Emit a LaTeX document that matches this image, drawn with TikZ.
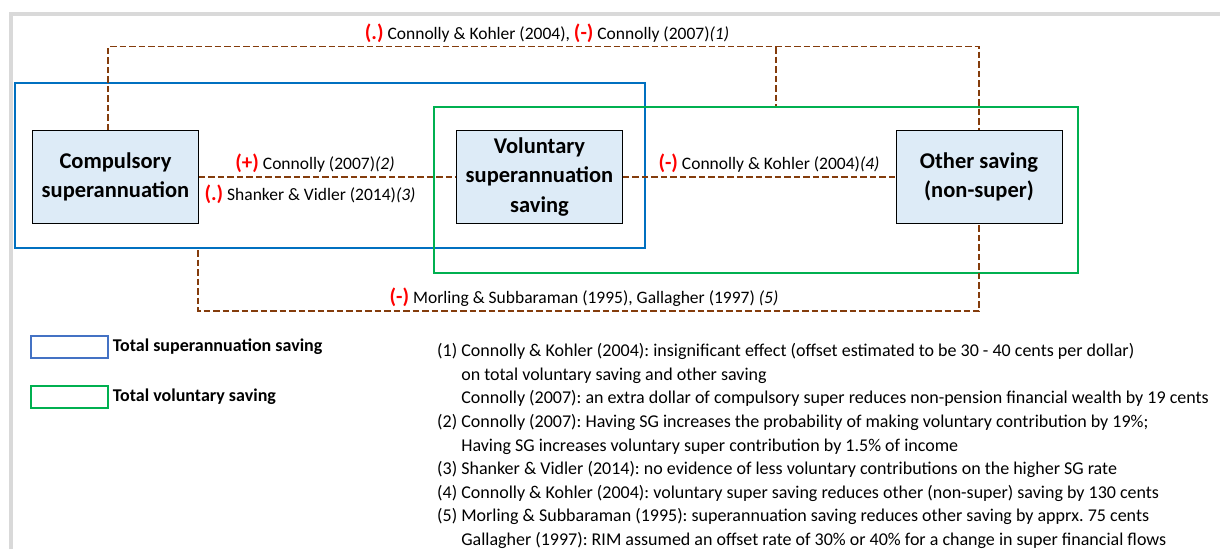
\documentclass[tikz,border=0pt]{standalone}
\usepackage{fontspec}
\setmainfont{Carlito}
\usetikzlibrary{positioning}
\frenchspacing

\definecolor{linkbrown}{HTML}{843C0C}
\definecolor{supblue}{HTML}{0070C0}
\definecolor{legblue}{HTML}{4472C4}
\definecolor{volgreen}{HTML}{00B050}
\definecolor{boxfill}{HTML}{DDEBF7}
\definecolor{effred}{HTML}{FF0000}
\definecolor{framegray}{HTML}{D9D9D9}

\newcommand{\eff}[1]{{\color{effred}\bfseries\fontsize{21}{21}\selectfont(#1)}}

\begin{document}
\begin{tikzpicture}[x=1pt, y=-1pt, font=\fontsize{17.5}{21}\selectfont,
		saving/.style={draw=black, line width=0.9pt, fill=boxfill, minimum width=166, minimum height=93,
			align=center, inner sep=2pt, font=\bfseries\fontsize{22.5}{29.5}\selectfont},
		frame/.style={draw, line width=2.6pt, inner sep=0pt},
		legbox/.style={draw, line width=2.6pt, minimum width=77, minimum height=22, inner sep=0pt},
		link/.style={draw=linkbrown, line width=1.6pt, dash pattern=on 6.5pt off 3pt}]
		\useasboundingbox (0,0) rectangle (1220,549);
		\draw[framegray, line width=4pt] (11,549) -- (11,14) -- (1220,14);
		
		% grouping frames
		\node[frame, draw=supblue, minimum width=630, minimum height=165] (totsup) at (330,165.5) {};
		\node[frame, draw=volgreen, minimum width=644, minimum height=166] (totvol) at (756,190) {};
		
		% saving types
		\node[saving] (comp) at (115.5,177) {Compulsory\\superannuation};
		\node[saving] (vol) at (539.5,177) {Voluntary\\superannuation\\saving};
		\node[saving] (other) at (979,177) {Other saving\\(non-super)};
		
		% links
		\coordinate (topmid) at (776,47);
		\coordinate (botleft) at (198,250);
		\draw[link] ([xshift=-7.5pt]comp.north) -- ++(0,-83.5) -| (other.north);
		\draw[link] (topmid) -- (topmid |- totvol.north);
		\draw[link] (comp) -- (vol);
		\draw[link] (vol) -- (other);
		\draw[link] (botleft) -- ++(0,61) -| (other.south);
		
		% link labels
		\node (lab1) at (547,33) {\eff{.} Connolly \& Kohler (2004), \eff{-} Connolly (2007)\textit{(1)}};
		\node (lab2) at (315,163) {\eff{+} Connolly (2007)\textit{(2)}};
		\node (lab3) at (310,194) {\eff{.} Shanker \& Vidler (2014)\textit{(3)}};
		\node (lab4) at (769,163) {\eff{-} Connolly \& Kohler (2004)\textit{(4)}};
		\node (lab5) at (584,297) {\eff{-} Morling \& Subbaraman (1995), Gallagher (1997) \textit{(5)}};
		
		% legend
		\node[legbox, draw=legblue] (legsup) at (69.5,347) {};
		\node[right=0pt of legsup, font=\bfseries\fontsize{18}{21}\selectfont] (legsuptext) {Total superannuation saving};
		\node[legbox, draw=volgreen] (legvol) at (69.5,397) {};
		\node[right=0pt of legvol, font=\bfseries\fontsize{18}{21}\selectfont] (legvoltext) {Total voluntary saving};
		
		% notes
		\node[anchor=north west, inner sep=0pt, font=\fontsize{18}{23.6}\selectfont] (notes) at (437,340) {%
			\begin{tabular}{@{}l@{\ }l@{}}
				(1) & Connolly \& Kohler (2004): insignificant effect (offset estimated to be 30 - 40 cents per dollar)\\
				& on total voluntary saving and other saving\\
				& Connolly (2007): an extra dollar of compulsory super reduces non-pension financial wealth by 19 cents\\
				(2) & Connolly (2007): Having SG increases the probability of making voluntary contribution by 19\%;\\
				& Having SG increases voluntary super contribution by 1.5\% of income\\
				(3) & Shanker \& Vidler (2014): no evidence of less voluntary contributions on the higher SG rate\\
				(4) & Connolly \& Kohler (2004): voluntary super saving reduces other (non-super) saving by 130 cents\\
				(5) & Morling \& Subbaraman (1995): superannuation saving reduces other saving by apprx. 75 cents\\
				& Gallagher (1997): RIM assumed an offset rate of 30\% or 40\% for a change in super financial flows
			\end{tabular}};
	\end{tikzpicture}
\end{document}
